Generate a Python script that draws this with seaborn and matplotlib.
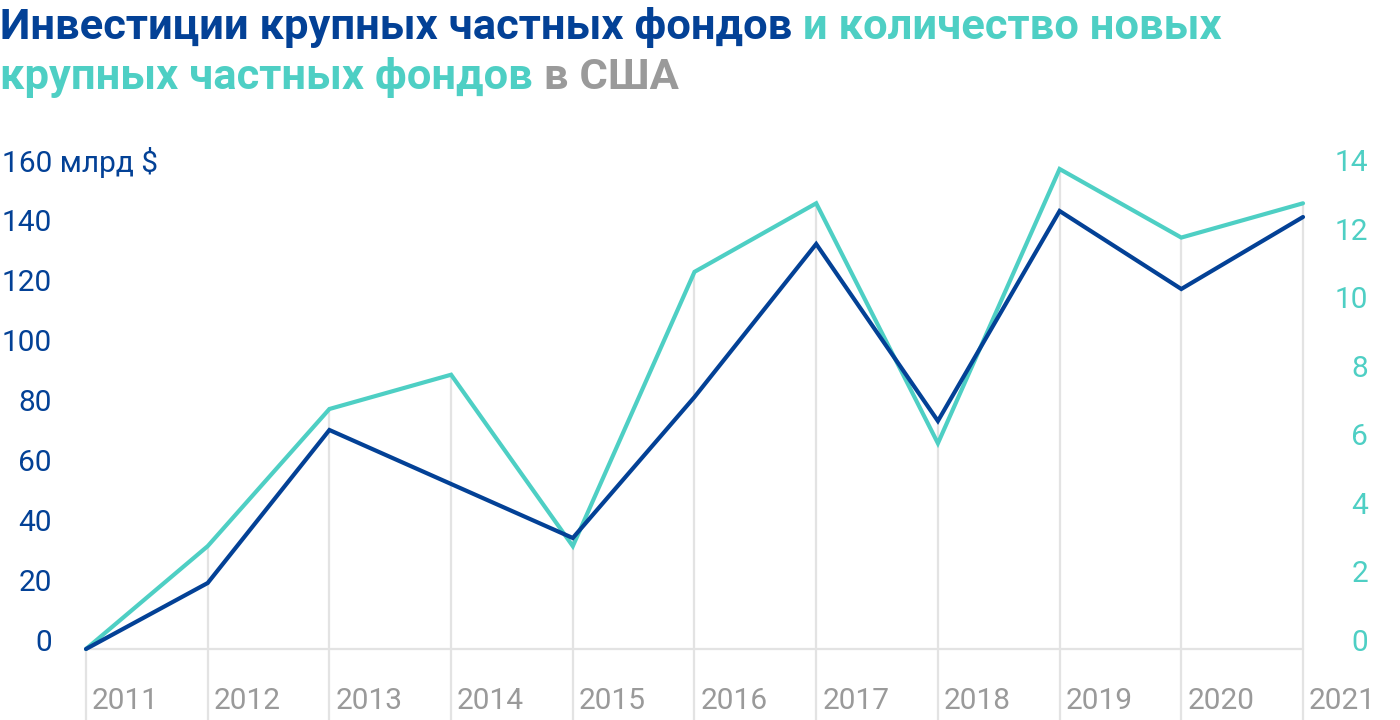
import matplotlib
matplotlib.use("Agg")
import matplotlib.pyplot as plt
from matplotlib.transforms import ScaledTranslation, IdentityTransform
import seaborn as sns
import pandas as pd
import numpy as np

# ---- data ----
years = [2011, 2012, 2013, 2014, 2015, 2016, 2017, 2018, 2019, 2020, 2021]
investments = [0, 22, 73, 55, 37, 84, 135, 76, 146, 120, 144]   # млрд $
new_funds = [0, 3, 7, 8, 3, 11, 13, 6, 14, 12, 13]              # count
left_ticks = [0, 20, 40, 60, 80, 100, 120, 140, 160]
right_ticks = [0, 2, 4, 6, 8, 10, 12, 14]
title_line1 = [("Инвестиции крупных частных фондов", "blue"), (" и количество новых", "teal")]
title_line2 = [("крупных частных фондов", "teal"), (" в США", "gray")]
unit_label = "160 млрд $"

BLUE = "#034196"
TEAL = "#4ecfc4"
GRAY = "#9a9a9a"
GRID = "#e3e3e3"
colors = {"blue": BLUE, "teal": TEAL, "gray": GRAY}

sns.set_theme(style="white")
plt.rcParams["font.family"] = ["Roboto", "DejaVu Sans"]

df = pd.DataFrame({"year": years, "investments": investments, "new_funds": new_funds})

W, H = 1400, 720
fig = plt.figure(figsize=(W / 100, H / 100), dpi=100)
ax = fig.add_axes([86 / W, 71 / H, 1217 / W, 480 / H])
ax2 = ax.twinx()
ax.set_xlim(2011, 2021)
ax.set_ylim(0, 160)
ax2.set_ylim(0, 14)

# drop lines from the higher point of both series down to the bottom edge
scale = 14 / 160
tops = np.maximum(np.array(investments) * scale, np.array(new_funds))
ax2.vlines(years, -5, tops, color=GRID, lw=1.6, zorder=0, clip_on=False)
ax.axhline(0, color=GRID, lw=1.6, zorder=0)

sns.lineplot(data=df, x="year", y="new_funds", ax=ax2, color=TEAL, lw=3.0, zorder=2)
sns.lineplot(data=df, x="year", y="investments", ax=ax, color=BLUE, lw=3.0, zorder=3)
for line in ax.lines + ax2.lines:
    line.set_clip_on(False)
    line.set_solid_joinstyle("miter")

ax.set_zorder(ax2.get_zorder() + 1)
ax.patch.set_visible(False)

for a in (ax, ax2):
    for s in a.spines.values():
        s.set_visible(False)
    a.set_xlabel("")
    a.set_ylabel("")
    a.grid(False)

FS = 21.5
# left axis
ax.set_yticks(left_ticks)
ax.set_yticklabels([str(v) if v != 160 else "" for v in left_ticks])
ax.tick_params(axis="y", length=0, pad=24.5, labelsize=FS, labelcolor=BLUE)
up = ScaledTranslation(0, 0.09, fig.dpi_scale_trans)
for lab in ax.get_yticklabels():
    lab.set_transform(lab.get_transform() + up)
ax.annotate(unit_label, xy=(0, 160), xycoords=ax.get_yaxis_transform(),
            xytext=(-84, 9), textcoords="offset pixels", ha="left",
            va="center_baseline", fontsize=FS, color=BLUE)

# right axis
ax2.set_yticks(right_ticks)
ax2.set_yticklabels([str(v) for v in right_ticks])
ax2.tick_params(axis="y", length=0, pad=46.8, labelsize=FS, labelcolor=TEAL)
for lab in ax2.get_yticklabels():
    lab.set_horizontalalignment("right")
    lab.set_transform(lab.get_transform() + up)

# x axis
ax.set_xticks(years)
ax.set_xticklabels([str(y) for y in years])
ax.tick_params(axis="x", length=0, pad=27.4, labelsize=FS, labelcolor=GRAY)
right = ScaledTranslation(0.06, 0, fig.dpi_scale_trans)
for lab in ax.get_xticklabels():
    lab.set_horizontalalignment("left")
    lab.set_transform(lab.get_transform() + right)

# title with coloured segments
renderer = fig.canvas.get_renderer()
TFS = 31.3

def rich_line(parts, y_top_px):
    x = 0
    for text, c in parts:
        t = fig.text(x, H - y_top_px, text, color=colors[c], fontsize=TFS,
                     fontweight="bold", va="baseline", ha="left",
                     transform=IdentityTransform())
        x += t.get_window_extent(renderer).width

rich_line(title_line1, 39)
rich_line(title_line2, 89)

fig.savefig("out.png", dpi=100)
